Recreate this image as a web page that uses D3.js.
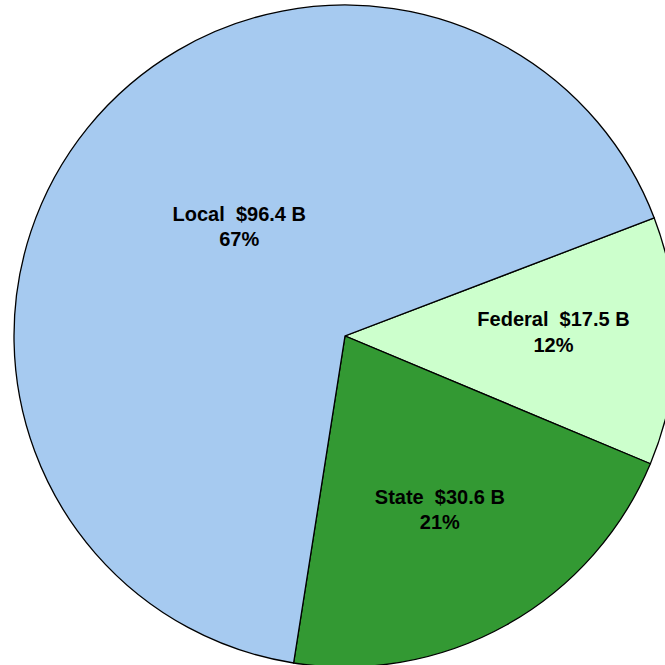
<!DOCTYPE html>
<html>
<head>
<meta charset="utf-8">
<script src="https://cdn.jsdelivr.net/npm/d3@7"></script>
<style>
  html, body { margin: 0; padding: 0; background: #fff; overflow: hidden; }
  svg { display: block; }
</style>
</head>
<body>
<svg id="pie"></svg>
<script>
// Data (billions of dollars)
var categories = ['Federal', 'State', 'Local'];
var amounts = [17.5, 30.6, 96.4];
var sliceColors = ['#ccffcc', '#339933', '#a6caf0'];

// Layout config
var config = {
  width: 665,
  height: 665,
  cx: 345,
  cy: 336,
  radius: 331,
  startAngleDeg: 69.1, // Federal slice starts here, clockwise from 12 o'clock
  strokeWidth: 1.3,
  fontSize: 20,
  lineGap: 25.5,
  // label placement per slice: fraction of radius and angle tweak (deg) from slice middle
  labelRadiusFrac: [0.63, 0.597, 0.46],
  labelAngleShift: [-2, 0.5, 7]
};

var svg = d3.select('#pie')
  .attr('width', config.width)
  .attr('height', config.height);

var g = svg.append('g')
  .attr('transform', 'translate(' + config.cx + ',' + config.cy + ')');

var total = d3.sum(amounts);
var startAngle = config.startAngleDeg * Math.PI / 180;

var pie = d3.pie()
  .sort(null)
  .value(function(d) { return d; })
  .startAngle(startAngle)
  .endAngle(startAngle + 2 * Math.PI);

var arcs = pie(amounts);

var arc = d3.arc()
  .innerRadius(0)
  .outerRadius(config.radius);

g.selectAll('path.slice')
  .data(arcs)
  .enter()
  .append('path')
  .attr('class', 'slice')
  .attr('d', arc)
  .attr('fill', function(d, i) { return sliceColors[i]; })
  .attr('stroke', '#000')
  .attr('stroke-width', config.strokeWidth)
  .attr('stroke-linejoin', 'miter');

var pct = d3.format('.0%');

// Two-line labels inside each slice
var labels = g.selectAll('text.label')
  .data(arcs)
  .enter()
  .append('text')
  .attr('class', 'label')
  .attr('text-anchor', 'middle')
  .attr('font-family', 'Liberation Sans, Arial, sans-serif')
  .attr('font-weight', 'bold')
  .attr('font-size', config.fontSize + 'px')
  .attr('fill', '#000')
  .attr('transform', function(d, i) {
    var mid = (d.startAngle + d.endAngle) / 2 + config.labelAngleShift[i] * Math.PI / 180;
    var r = config.radius * config.labelRadiusFrac[i];
    var x = r * Math.sin(mid);
    var y = -r * Math.cos(mid);
    return 'translate(' + x + ',' + y + ')';
  });

labels.append('tspan')
  .attr('x', 0)
  .attr('y', -config.lineGap / 2 + config.fontSize * 0.36)
  .attr('xml:space', 'preserve')
  .style('white-space', 'pre')
  .text(function(d, i) { return categories[i] + '  $' + d.value.toFixed(1) + ' B'; });

labels.append('tspan')
  .attr('x', 0)
  .attr('y', config.lineGap / 2 + config.fontSize * 0.36)
  .text(function(d) { return pct(d.value / total); });
</script>
</body>
</html>
